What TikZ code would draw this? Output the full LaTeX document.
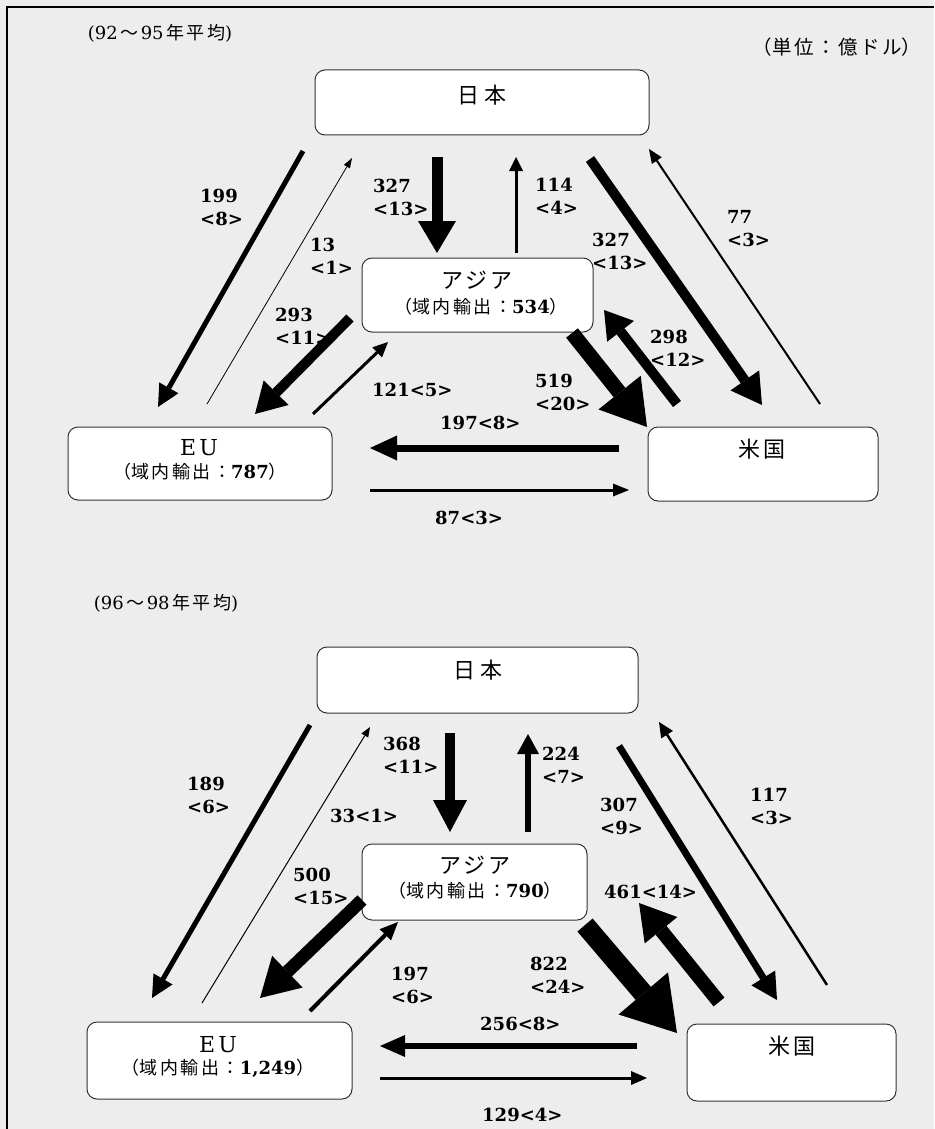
\documentclass[tikz,border=0pt]{standalone}
\usepackage{fontspec}
\usetikzlibrary{arrows.meta}
\setmainfont{DejaVu Serif}
\newfontfamily\jpf{Noto Sans CJK JP}
\newfontfamily\numf{DejaVu Serif}
\newcommand\jtxt[1]{{\jpf\mdseries #1}}
\newcommand\gp{\hspace{2.5pt}}
\definecolor{bg}{HTML}{EDEDED}
\definecolor{boxline}{HTML}{333333}
\tikzset{
  flow/.style n args={3}{line width=#1pt, -{Triangle[width=#2pt,length=#3pt,line width=0pt]}},
  box/.style={draw=boxline, line width=1pt, rounded corners=10pt, fill=white, inner sep=0pt},
  lbl/.style={font=\numf\bfseries\fontsize{18}{23}\selectfont, align=left, inner sep=0pt, anchor=west},
  big/.style={font=\jpf\fontsize{22}{26}\selectfont, inner sep=0pt},
  sub/.style={font=\numf\bfseries\fontsize{18}{20}\selectfont, inner sep=0pt},
  eu/.style={font=\numf\fontsize{22}{24}\selectfont, inner sep=0pt},
  ttl/.style={font=\numf\fontsize{18}{20}\selectfont, inner sep=0pt},
}
\begin{document}
\begin{tikzpicture}[x=1pt,y=-1pt]
\useasboundingbox (0,0) rectangle (934,1129);
\fill[bg] (0,0) rectangle (934,1129);
\draw[line width=2pt] (7,1129) -- (7,7) -- (934,7);

% ---------- titles ----------
\node[ttl] (t1) at (160,33) {(92\gp\jtxt{～}\gp 95\gp\jtxt{年\gp 平\gp 均})};
\node[ttl, font=\jpf\fontsize{19.5}{22}\selectfont] (unit) at (837,47) {（単\gp 位\gp ：\gp 億\gp ド\gp ル）};
\node[ttl] (t2) at (166,603) {(96\gp\jtxt{～}\gp 98\gp\jtxt{年\gp 平\gp 均})};

% ---------- top panel boxes ----------
\node[box, minimum width=334pt, minimum height=65pt] (jp1) at (482,102.5) {};
\node[big] (jp1t) at (482,95) {日\hspace{5pt}本};
\node[box, minimum width=231pt, minimum height=74pt] (as1) at (477.5,295) {};
\node[big] (as1t) at (477,280) {ア\hspace{3pt}ジ\hspace{3pt}ア};
\node[sub] (as1s) at (481,307) {\jtxt{（域\gp 内\gp 輸\gp 出\gp ：}534\jtxt{）}};
\node[box, minimum width=264pt, minimum height=73pt] (eu1) at (200,463.5) {};
\node[eu] (eu1t) at (199,448) {E\hspace{3pt}U};
\node[sub] (eu1s) at (200,472) {\jtxt{（域\gp 内\gp 輸\gp 出\gp ：}787\jtxt{）}};
\node[box, minimum width=230pt, minimum height=74pt] (us1) at (763,464) {};
\node[big] (us1t) at (762,449) {米\hspace{4pt}国};

% ---------- top panel arrows ----------
\coordinate (p1s) at (303,151);  \coordinate (p1e) at (158,407);
\coordinate (p2s) at (207,404);  \coordinate (p2e) at (352,158);
\coordinate (p3s) at (437,157);  \coordinate (p3e) at (437,253);
\coordinate (p4s) at (516,253);  \coordinate (p4e) at (516,157);
\coordinate (p5s) at (590,159);  \coordinate (p5e) at (762,405);
\coordinate (p6s) at (820,404);  \coordinate (p6e) at (649,149);
\coordinate (p7s) at (350,318);  \coordinate (p7e) at (255,414);
\coordinate (p8s) at (313,414);  \coordinate (p8e) at (388,342);
\coordinate (p9s) at (572,333);  \coordinate (p9e) at (647,427);
\coordinate (p10s) at (677,404); \coordinate (p10e) at (604,310);
\coordinate (p11s) at (619,448); \coordinate (p11e) at (370,448);
\coordinate (p12s) at (370,490); \coordinate (p12e) at (629,490);
\draw[flow={5}{22}{22}] (p1s) -- (p1e);
\draw[flow={0.8}{7}{10}] (p2s) -- (p2e);
\draw[flow={11}{38}{32}] (p3s) -- (p3e);
\draw[flow={3}{14}{14}] (p4s) -- (p4e);
\draw[flow={10}{35}{30}] (p5s) -- (p5e);
\draw[flow={2}{12}{14}] (p6s) -- (p6e);
\draw[flow={10}{35}{30}] (p7s) -- (p7e);
\draw[flow={3}{14}{15}] (p8s) -- (p8e);
\draw[flow={15}{54}{44}] (p9s) -- (p9e);
\draw[flow={10}{34}{27}] (p10s) -- (p10e);
\draw[flow={7}{25}{27}] (p11s) -- (p11e);
\draw[flow={3}{13}{16}] (p12s) -- (p12e);

% ---------- top panel labels ----------
\node[lbl] (q1) at (200,207) {199\\<8>};
\node[lbl] (q2) at (310,256) {13\\<1>};
\node[lbl] (q3) at (373,197) {327\\<13>};
\node[lbl] (q4) at (535,196) {114\\<4>};
\node[lbl] (q5) at (592,251) {327\\<13>};
\node[lbl] (q6) at (727,229) {77\\<3>};
\node[lbl] (q7) at (275,326) {293\\<11>};
\node[lbl] (q8) at (372,390) {121<5>};
\node[lbl] (q9) at (440,423) {197<8>};
\node[lbl] (q10) at (435,518) {87<3>};
\node[lbl] (q11) at (535,392) {519\\<20>};
\node[lbl] (q12) at (650,348) {298\\<12>};

% ---------- bottom panel boxes ----------
\node[box, minimum width=321pt, minimum height=66pt] (jp2) at (477.5,680) {};
\node[big] (jp2t) at (478,670) {日\hspace{5pt}本};
\node[box, minimum width=225pt, minimum height=76pt] (as2) at (474.5,882) {};
\node[big] (as2t) at (475,865) {ア\hspace{3pt}ジ\hspace{3pt}ア};
\node[sub] (as2s) at (475,891) {\jtxt{（域\gp 内\gp 輸\gp 出\gp ：}790\jtxt{）}};
\node[box, minimum width=265pt, minimum height=77pt] (eu2) at (219.5,1060.5) {};
\node[eu] (eu2t) at (218,1045) {E\hspace{3pt}U};
\node[sub] (eu2s) at (218,1068) {\jtxt{（域\gp 内\gp 輸\gp 出\gp ：}1,249\jtxt{）}};
\node[box, minimum width=209pt, minimum height=77pt] (us2) at (791.5,1062.5) {};
\node[big] (us2t) at (792,1046) {米\hspace{4pt}国};

% ---------- bottom panel arrows ----------
\coordinate (r1s) at (310,725);  \coordinate (r1e) at (152,998);
\coordinate (r2s) at (202,1003); \coordinate (r2e) at (370,727);
\coordinate (r3s) at (450,733);  \coordinate (r3e) at (450,832);
\coordinate (r4s) at (528,832);  \coordinate (r4e) at (528,734);
\coordinate (r5s) at (619,746);  \coordinate (r5e) at (777,1000);
\coordinate (r6s) at (827,985);  \coordinate (r6e) at (659,722);
\coordinate (r7s) at (362,900);  \coordinate (r7e) at (260,998);
\coordinate (r8s) at (310,1011); \coordinate (r8e) at (398,922);
\coordinate (r9s) at (585,925);  \coordinate (r9e) at (677,1033);
\coordinate (r10s) at (719,1002); \coordinate (r10e) at (639,903);
\coordinate (r11s) at (637,1046); \coordinate (r11e) at (380,1046);
\coordinate (r12s) at (380,1078); \coordinate (r12e) at (647,1078);
\draw[flow={5}{22}{22}] (r1s) -- (r1e);
\draw[flow={1}{8}{10}] (r2s) -- (r2e);
\draw[flow={10}{34}{32}] (r3s) -- (r3e);
\draw[flow={6}{22}{20}] (r4s) -- (r4e);
\draw[flow={7}{28}{26}] (r5s) -- (r5e);
\draw[flow={2.5}{14}{15}] (r6s) -- (r6e);
\draw[flow={13}{44}{38}] (r7s) -- (r7e);
\draw[flow={4}{16}{18}] (r8s) -- (r8e);
\draw[flow={20}{65}{52}] (r9s) -- (r9e);
\draw[flow={14}{42}{35}] (r10s) -- (r10e);
\draw[flow={6}{22}{25}] (r11s) -- (r11e);
\draw[flow={3}{14}{16}] (r12s) -- (r12e);

% ---------- bottom panel labels ----------
\node[lbl] (s1) at (187,795) {189\\<6>};
\node[lbl] (s2) at (330,816) {33<1>};
\node[lbl] (s3) at (383,755) {368\\<11>};
\node[lbl] (s4) at (542,765) {224\\<7>};
\node[lbl] (s5) at (600,816) {307\\<9>};
\node[lbl] (s6) at (750,806) {117\\<3>};
\node[lbl] (s7) at (293,886) {500\\<15>};
\node[lbl] (s8) at (391,985) {197\\<6>};
\node[lbl] (s9) at (604,892) {461<14>};
\node[lbl] (s10) at (530,975) {822\\<24>};
\node[lbl] (s11) at (480,1024) {256<8>};
\node[lbl] (s12) at (482,1115) {129<4>};
\end{tikzpicture}
\end{document}
